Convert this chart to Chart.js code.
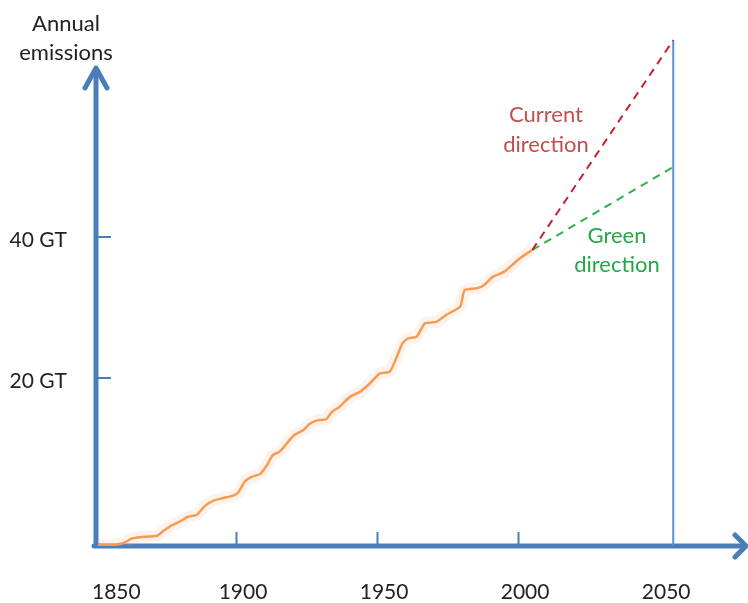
<!DOCTYPE html>
<html>
<head>
<meta charset="utf-8">
<script src="https://cdn.jsdelivr.net/npm/chart.js@4"></script>
<style>
  body { margin: 0; background: #fff; }
  canvas { display: block; }
</style>
</head>
<body>
<canvas id="chart" width="748" height="603"></canvas>
<script>
// Emissions history (year, GT)
const years = [1851, 1855, 1860, 1863, 1866, 1872, 1874, 1877, 1880, 1883, 1886, 1889, 1892, 1895.5, 1899,
  1901, 1903, 1905.5, 1908.5, 1911, 1913, 1915.5, 1919, 1921, 1924, 1926, 1928.5, 1932, 1934, 1936.5,
  1940.5, 1944, 1947.5, 1951, 1954.5, 1957, 1959, 1961, 1964, 1967, 1971, 1974.5, 1979.5, 1981, 1985.5,
  1988, 1991, 1995, 1998.5, 2000.5, 2003, 2005]
const emissions = [-3.7, -3.7, -3.4, -2.75, -2.55, -2.35, -1.75, -0.9, -0.35, 0.35, 0.6, 1.9, 2.65, 3.0, 3.35,
  3.9, 5.3, 6.0, 6.4, 7.7, 9.1, 9.6, 11.25, 12.05, 12.7, 13.5, 14.0, 14.2, 15.25, 15.9,
  17.4, 18.1, 19.3, 20.7, 20.95, 23.05, 24.95, 25.65, 25.9, 27.8, 28.0, 29.0, 30.2, 32.5, 32.8,
  33.25, 34.4, 35.1, 36.3, 37.0, 37.7, 38.2]

// Projections to the 2050 mark
const projYears = [2005, 2055]
const currentDirection = [38.2, 68]
const greenDirection = [38.2, 50]
const markerLine = [-3.8, 68]

const xTicks = [1850, 1900, 1950, 2000, 2050]
const yTicks = [20, 40]
const yTickLabels = ['20 GT', '40 GT']

const axisBlue = '#4a7ebb'
const font = '21px Lato'

function pts(xs, ys) {
  return xs.map((x, i) => ({ x: x, y: ys[i] }))
}

const axesPlugin = {
  id: 'axes',
  beforeDatasetsDraw(chart) {
    const c = chart.ctx
    const xs = chart.scales.x
    const ys = chart.scales.y
    const x0 = xs.getPixelForValue(1850) + 1
    const y0 = ys.bottom

    c.save()
    c.strokeStyle = axisBlue
    c.lineCap = 'round'
    c.lineJoin = 'round'

    // main axes
    c.lineWidth = 5
    c.beginPath()
    c.moveTo(x0, y0)
    c.lineTo(x0, 70)
    c.moveTo(x0 - 2, y0)
    c.lineTo(745, y0)
    c.stroke()

    // arrow heads
    c.beginPath()
    c.moveTo(x0 - 11, 88)
    c.lineTo(x0, 68)
    c.lineTo(x0 + 11, 88)
    c.moveTo(735, y0 - 11)
    c.lineTo(746, y0)
    c.lineTo(735, y0 + 11)
    c.stroke()

    // tick marks
    c.lineWidth = 2
    c.lineCap = 'butt'
    c.beginPath()
    xTicks.slice(1, 4).forEach(v => {
      const px = Math.round(xs.getPixelForValue(v)) + 0.5
      c.moveTo(px, y0)
      c.lineTo(px, y0 - 14)
    })
    yTicks.forEach(v => {
      const py = Math.round(ys.getPixelForValue(v))
      c.moveTo(x0, py)
      c.lineTo(x0 + 15, py)
    })
    c.stroke()
    c.restore()
  },
  afterDraw(chart) {
    const c = chart.ctx
    const xs = chart.scales.x
    const ys = chart.scales.y
    c.save()
    c.font = font
    c.fillStyle = '#222'
    c.textBaseline = 'middle'

    xTicks.forEach((v, i) => {
      const px = xs.getPixelForValue(v)
      if (i === 0) {
        c.textAlign = 'left'
        c.fillText(String(v), px - 3, 592)
      } else {
        c.textAlign = 'center'
        c.fillText(String(v), px + 7, 592)
      }
    })

    c.textAlign = 'right'
    yTicks.forEach((v, i) => {
      c.fillText(yTickLabels[i], 67, ys.getPixelForValue(v) + 3)
    })

    // axis title
    c.font = '22px Lato'
    c.textAlign = 'center'
    c.textBaseline = 'alphabetic'
    c.fillText('Annual', 66, 31)
    c.fillText('emissions', 66, 60)

    // annotations
    c.fillStyle = '#c0504d'
    c.fillText('Current', 546, 122)
    c.fillText('direction', 546, 152)
    c.fillStyle = '#23a846'
    c.fillText('Green', 617, 243)
    c.fillText('direction', 617, 272)
    c.restore()
  }
}

new Chart(document.getElementById('chart'), {
  type: 'line',
  data: {
    datasets: [
      {
        data: pts(years, emissions),
        borderColor: 'rgba(245, 165, 110, 0.13)',
        borderWidth: 12,
        pointRadius: 0,
        tension: 0.2
      },
      {
        data: pts(years, emissions),
        borderColor: '#f79a50',
        borderWidth: 2.5,
        pointRadius: 0,
        tension: 0.2
      },
      {
        data: pts(projYears, currentDirection),
        borderColor: '#c8202c',
        borderWidth: 2,
        borderDash: [8, 6],
        pointRadius: 0
      },
      {
        data: pts(projYears, greenDirection),
        borderColor: '#2db34a',
        borderWidth: 2,
        borderDash: [8, 6],
        pointRadius: 0
      },
      {
        data: pts([2055, 2055], markerLine),
        borderColor: '#5b8fd0',
        borderWidth: 2,
        pointRadius: 0
      }
    ]
  },
  options: {
    responsive: false,
    devicePixelRatio: 1,
    animation: false,
    layout: { padding: { left: 95, right: 0, top: 26, bottom: 57 } },
    plugins: {
      legend: { display: false },
      tooltip: { enabled: false }
    },
    scales: {
      x: { type: 'linear', display: false, min: 1850, max: 2081.5 },
      y: { type: 'linear', display: false, min: -3.8, max: 70 }
    }
  },
  plugins: [axesPlugin]
})
</script>
</body>
</html>
